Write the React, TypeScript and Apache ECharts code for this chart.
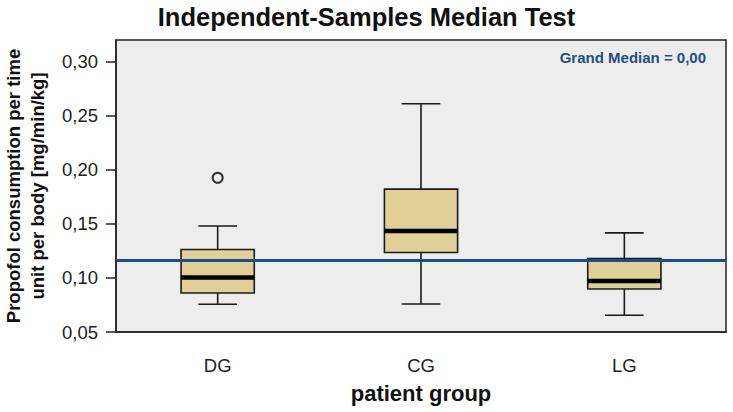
import React, { useEffect, useRef } from "react";
import * as echarts from "echarts";

const categories = ["DG", "CG", "LG"];
// [min, Q1, median, Q3, max]
const boxData = [
  [0.0756, 0.0861, 0.1004, 0.1263, 0.148],
  [0.0759, 0.1235, 0.1435, 0.1821, 0.261],
  [0.0655, 0.0898, 0.0972, 0.118, 0.1417],
];
const outliers = [[0, 0.1926]];
const grandMedian = 0.1162;
const yTicks = [0.05, 0.1, 0.15, 0.2, 0.25, 0.3];

const FONT = "Liberation Sans, Arial, Helvetica, sans-serif";

export default function App() {
  const ref = useRef<HTMLDivElement>(null);
  useEffect(() => {
    const chart = echarts.init(ref.current!, null, { renderer: "svg" });
    const fmt = (v: number) => v.toFixed(2).replace(".", ",");
    chart.setOption({
      animation: false,
      backgroundColor: "#ffffff",
      textStyle: { fontFamily: FONT },
      title: {
        text: "Independent-Samples Median Test",
        left: "center",
        top: -1,
        textStyle: { fontFamily: FONT, fontSize: 25.5, fontWeight: "bold", color: "#111" },
      },
      grid: {
        left: 116,
        right: 7,
        top: 40,
        bottom: 80,
        outerBoundsMode: "none",
        containLabel: false,
        show: true,
        backgroundColor: "#eeedee",
        borderColor: "#222",
        borderWidth: 1.5,
      },
      xAxis: {
        type: "category",
        data: categories,
        name: "patient group",
        nameLocation: "middle",
        nameGap: 50,
        nameTextStyle: { fontFamily: FONT, fontSize: 22, fontWeight: "bold", color: "#111" },
        axisLine: { lineStyle: { color: "#222", width: 1.5 } },
        axisTick: { alignWithLabel: true, length: 10, lineStyle: { color: "#222", width: 1.5 } },
        axisLabel: { fontFamily: FONT, fontSize: 18.5, color: "#222", margin: 24 },
        splitLine: { show: false },
      },
      yAxis: {
        type: "value",
        min: 0.05,
        max: 0.32,
        interval: 0.05,
        name: "Propofol consumption per time\nunit per body [mg/min/kg]",
        nameLocation: "middle",
        nameGap: 67,
        nameTextStyle: { fontFamily: FONT, fontSize: 18.5, fontWeight: "bold", color: "#111", lineHeight: 24 },
        axisLine: { show: true, lineStyle: { color: "#222", width: 1.5 } },
        axisTick: { show: true, length: 10, customValues: yTicks, lineStyle: { color: "#222", width: 1.5 } },
        axisLabel: { fontFamily: FONT, fontSize: 18.5, color: "#222", margin: 18, customValues: yTicks, formatter: fmt },
        splitLine: { show: false },
      },
      graphic: [
        {
          type: "text",
          right: 27,
          top: 50,
          style: { text: "Grand Median = 0,00", fill: "#1f4e87", font: `bold 15px ${FONT}` },
        },
      ],
      series: [
        {
          type: "custom",
          data: boxData.map((d, i) => [i, ...d]),
          renderItem: (params: any, api: any) => {
            const x = api.value(0);
            const vals = [1, 2, 3, 4, 5].map((k) => api.coord([x, api.value(k)]));
            const cx = vals[0][0];
            const w = api.size([1, 0])[0];
            const bw = w * 0.36;
            const cw = w * 0.19;
            const [pMin, pQ1, pMed, pQ3, pMax] = vals.map((p: number[]) => p[1]);
            const lineStyle = { stroke: "#1a1a1a", lineWidth: 1.6 };
            return {
              type: "group",
              children: [
                { type: "line", shape: { x1: cx, y1: pMax, x2: cx, y2: pQ3 }, style: lineStyle },
                { type: "line", shape: { x1: cx, y1: pQ1, x2: cx, y2: pMin }, style: lineStyle },
                { type: "line", shape: { x1: cx - cw / 2, y1: pMax, x2: cx + cw / 2, y2: pMax }, style: lineStyle },
                { type: "line", shape: { x1: cx - cw / 2, y1: pMin, x2: cx + cw / 2, y2: pMin }, style: lineStyle },
                {
                  type: "rect",
                  shape: { x: cx - bw / 2, y: pQ3, width: bw, height: pQ1 - pQ3 },
                  style: { fill: "#e1cf98", stroke: "#1a1a1a", lineWidth: 1.6 },
                },
                {
                  type: "rect",
                  shape: { x: cx - bw / 2, y: pMed - 2.25, width: bw, height: 4.5 },
                  style: { fill: "#000" },
                },
              ],
            };
          },
          z: 2,
        },
        {
          type: "scatter",
          data: outliers,
          symbol: "circle",
          symbolSize: 10,
          itemStyle: { color: "#eeedee", borderColor: "#000", borderWidth: 2 },
          z: 3,
        },
        {
          type: "line",
          data: [],
          markLine: {
            silent: true,
            precision: 4,
            symbol: ["none", "none"],
            label: { show: false },
            lineStyle: { color: "#1b4f8a", width: 3, type: "solid" },
            data: [{ yAxis: grandMedian }],
          },
          z: 4,
        },
      ],
    });
    return () => chart.dispose();
  }, []);
  return (
    <div
      ref={ref}
      style={{ position: "fixed", left: 0, top: 0, width: 733, height: 412, overflow: "hidden" }}
    />
  );
}
